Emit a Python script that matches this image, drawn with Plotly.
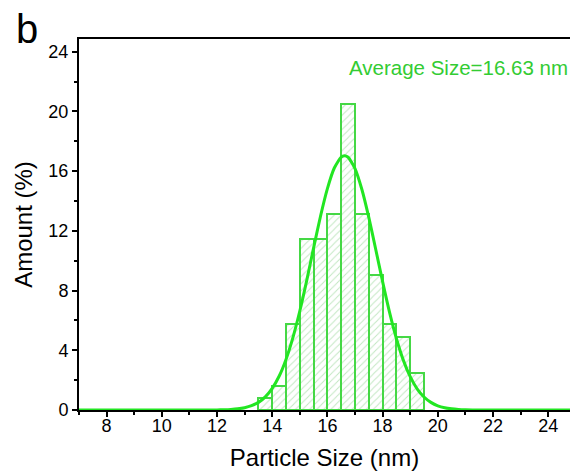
import plotly.graph_objects as go

# ---- data ----
bin_centers = [13.75, 14.25, 14.75, 15.25, 15.75, 16.25, 16.75, 17.25, 17.75, 18.25, 18.75, 19.25]
amounts = [0.82, 1.64, 5.74, 11.48, 11.48, 13.11, 20.49, 13.11, 9.02, 5.74, 4.92, 2.46]
bin_width = 0.5

fit_x = [7.0, 11.0, 11.5, 12.0, 12.25, 12.5, 12.75, 13.0, 13.25, 13.5, 13.75, 14.0, 14.25, 14.5,
         14.75, 15.0, 15.25, 15.5, 15.75, 16.0, 16.25, 16.5, 16.62, 16.75, 17.0, 17.25, 17.5,
         17.75, 18.0, 18.25, 18.5, 18.75, 19.0, 19.25, 19.5, 19.75, 20.0, 20.25, 20.5, 20.75,
         21.0, 21.5, 22.0, 24.79]
fit_y = [0.0, 0.0, 0.002, 0.008, 0.018, 0.039, 0.078, 0.155, 0.29, 0.51, 0.88, 1.45, 2.26, 3.39,
         4.85, 6.63, 8.67, 10.86, 12.98, 14.83, 16.21, 16.94, 17.03, 16.93, 16.17, 14.77, 12.9,
         10.77, 8.6, 6.56, 4.79, 3.34, 2.23, 1.42, 0.87, 0.51, 0.28, 0.15, 0.077, 0.037,
         0.017, 0.003, 0.0, 0.0]

x_ticks = [8, 10, 12, 14, 16, 18, 20, 22, 24]
y_ticks = [0, 4, 8, 12, 16, 20, 24]
avg_label = "Average Size=16.63 nm"
panel_label = "b"

FONT = "Liberation Sans, Arial, sans-serif"
GREEN_LINE = "#22e622"
GREEN_BAR = "#45d845"
GREEN_HATCH = "#86cf86"
GREEN_TEXT = "#33cc33"

fig = go.Figure()
fig.add_trace(go.Bar(
    x=bin_centers, y=amounts, width=[bin_width] * len(bin_centers),
    marker=dict(
        color="white",
        line=dict(color=GREEN_BAR, width=2),
        pattern=dict(shape="/", fgcolor=GREEN_HATCH, bgcolor="white", size=5, solidity=0.2),
    ),
    showlegend=False,
))
fig.add_trace(go.Scatter(
    x=fit_x, y=fit_y, mode="lines",
    line=dict(color=GREEN_LINE, width=3, shape="spline", smoothing=0.6),
    showlegend=False,
))

fig.update_layout(
    width=570, height=474,
    margin=dict(l=79, r=0, t=39, b=64),
    paper_bgcolor="white", plot_bgcolor="white",
    bargap=0,
    font=dict(family=FONT, color="black", size=18),
    xaxis=dict(
        range=[7.0, 24.79],
        tickmode="array", tickvals=x_ticks,
        ticks="outside", ticklen=5, tickwidth=2, tickcolor="black",
        ticklabelstandoff=-7,
        minor=dict(dtick=1, tick0=7, ticks="outside", ticklen=3, tickwidth=1.5, tickcolor="black"),
        showline=True, linecolor="black", linewidth=2, mirror=True,
        showgrid=False, zeroline=False,
        tickfont=dict(size=18, family=FONT, color="black"),
        title=dict(text="Particle Size (nm)", font=dict(size=24, family=FONT, color="black"), standoff=15),
    ),
    yaxis=dict(
        range=[0, 24.85],
        tickmode="array", tickvals=y_ticks,
        ticks="outside", ticklen=5, tickwidth=2, tickcolor="black",
        minor=dict(dtick=2, tick0=0, ticks="outside", ticklen=3, tickwidth=1.5, tickcolor="black"),
        showline=True, linecolor="black", linewidth=2, mirror=False,
        showgrid=False, zeroline=False,
        tickfont=dict(size=18, family=FONT, color="black"),
        title=dict(text="Amount (%)", font=dict(size=24, family=FONT, color="black"), standoff=9),
    ),
    annotations=[
        dict(text=avg_label, xref="paper", yref="paper", x=0.772, y=0.9226,
             xanchor="center", yanchor="middle", showarrow=False,
             font=dict(size=20.5, family=FONT, color=GREEN_TEXT)),
        dict(text=panel_label, xref="paper", yref="paper", x=-0.1056, y=1.028,
             xanchor="center", yanchor="middle", showarrow=False,
             font=dict(size=40, family=FONT, color="black")),
    ],
)

fig.write_html("out.html")
